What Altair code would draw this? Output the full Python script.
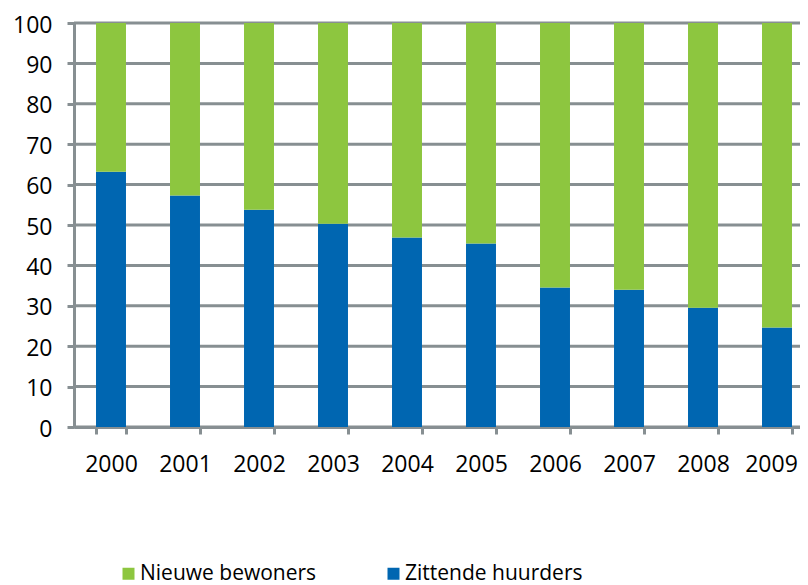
import altair as alt
import pandas as pd

years = ["2000", "2001", "2002", "2003", "2004", "2005", "2006", "2007", "2008", "2009"]
zittende = [63.2, 57.3, 53.8, 50.3, 46.9, 45.4, 34.5, 34.0, 29.5, 24.6]
nieuwe = [36.8, 42.7, 46.2, 49.7, 53.1, 54.6, 65.5, 66.0, 70.5, 75.4]
series = ["Nieuwe bewoners", "Zittende huurders"]
colors = ["#8dc63f", "#0066b1"]
y_ticks = [0, 10, 20, 30, 40, 50, 60, 70, 80, 90, 100]

rows = []
for yr, z, n in zip(years, zittende, nieuwe):
    rows.append({"year": yr, "series": "Zittende huurders", "value": z, "ord": 0})
    rows.append({"year": yr, "series": "Nieuwe bewoners", "value": n, "ord": 1})
df = pd.DataFrame(rows)
grid_df = pd.DataFrame({"tick": y_ticks})

FONT = "Open Sans"
GRAY = "#878f92"
LW = 3

y_scale = alt.Scale(domain=[0, 100], nice=False)
y_axis = alt.Axis(
    title=None,
    values=y_ticks,
    labelFont=FONT,
    labelFontSize=23,
    labelColor="#000000",
    labelPadding=15,
    labelOffset=2,
    tickSize=7,
    tickColor=GRAY,
    tickWidth=LW,
    domainColor=GRAY,
    domainWidth=LW,
    grid=False,
)

grid = (
    alt.Chart(grid_df)
    .mark_rule(color=GRAY, strokeWidth=LW)
    .encode(y=alt.Y("tick:Q", scale=y_scale, axis=y_axis))
)

bars = (
    alt.Chart(df)
    .mark_bar()
    .encode(
        x=alt.X(
            "year:N",
            sort=years,
            scale=alt.Scale(paddingInner=0.595, paddingOuter=0.2975),
            axis=alt.Axis(
                title=None,
                labelAngle=0,
                labelFont=FONT,
                labelFontSize=23,
                labelColor="#000000",
                labelPadding=19,
                labelOffset=alt.ExprRef(expr="datum.value == '2009' ? -6 : 0"),
                tickBand="extent",
                tickSize=7,
                tickColor=GRAY,
                tickWidth=LW,
                domainColor=GRAY,
                domainWidth=LW,
                grid=False,
            ),
        ),
        y=alt.Y("value:Q", stack="zero", scale=y_scale, axis=y_axis),
        color=alt.Color(
            "series:N",
            scale=alt.Scale(domain=series, range=colors),
            legend=alt.Legend(
                title=None,
                orient="none",
                legendX=44,
                legendY=540,
                direction="horizontal",
                columns=2,
                columnPadding=66,
                symbolType="square",
                symbolSize=144,
                symbolStrokeWidth=0,
                labelFont=FONT,
                labelFontSize=21,
                labelColor="#000000",
                labelOffset=1,
                labelLimit=400,
            ),
        ),
        order=alt.Order("ord:Q"),
    )
)

chart = (
    alt.layer(grid, bars)
    .properties(
        width=740,
        height=404,
        autosize=alt.AutoSizeParams(type="none"),
        padding={"left": 66, "top": 15, "right": -14, "bottom": 162},
    )
    .configure_view(stroke=None)
)

chart.save("out.html", embed_options={"renderer": "svg", "actions": False})
